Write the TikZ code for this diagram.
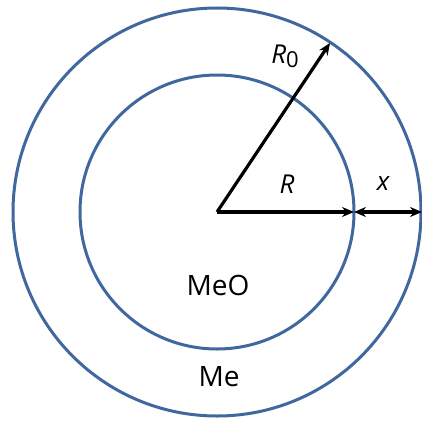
\documentclass[tikz,border=0pt]{standalone}
\usepackage{fontspec}
\setmainfont{Open Sans}
\usetikzlibrary{arrows.meta}
\definecolor{ringblue}{RGB}{64,104,158}
\begin{document}
\begin{tikzpicture}[x=1pt,y=-1pt,
  ring/.style={draw=ringblue,line width=3pt},
  vec/.style={draw=black,line width=3.2pt,-{Stealth[length=12pt,width=10pt,inset=4pt]}},
  dvec/.style={draw=black,line width=3.2pt,{Stealth[length=12pt,width=10pt,inset=4pt]}-{Stealth[length=12pt,width=10pt,inset=4pt]}},
  lbl/.style={font=\fontsize{28}{30}\selectfont,inner sep=0pt},
  ilbl/.style={font=\fontsize{26}{28}\selectfont\itshape,inner sep=0pt}]
\useasboundingbox (0,0) rectangle (422,420);
\fill[white] (0,0) rectangle (422,420);
\coordinate (c) at (217,212);
\draw[ring] (c) circle[radius=204];
\draw[ring] (c) circle[radius=137];
\coordinate (r0tip) at (330,43);
\coordinate (rtip) at (354,212);
\coordinate (xtip) at (422,212);
\draw[vec] (c) -- (r0tip);
\draw[vec] (c) -- (rtip);
\draw[dvec] (rtip) -- (xtip);
\node[ilbl] (lR0) at (285,56) {R\raisebox{-0.3ex}{\upshape\fontsize{22}{24}\selectfont 0}};
\node[ilbl] (lR) at (287,184) {R};
\node[ilbl] (lx) at (383,184) {x};
\node[lbl] (lMeO) at (218,285) {MeO};
\node[lbl] (lMe) at (219,377) {Me};
\end{tikzpicture}
\end{document}
